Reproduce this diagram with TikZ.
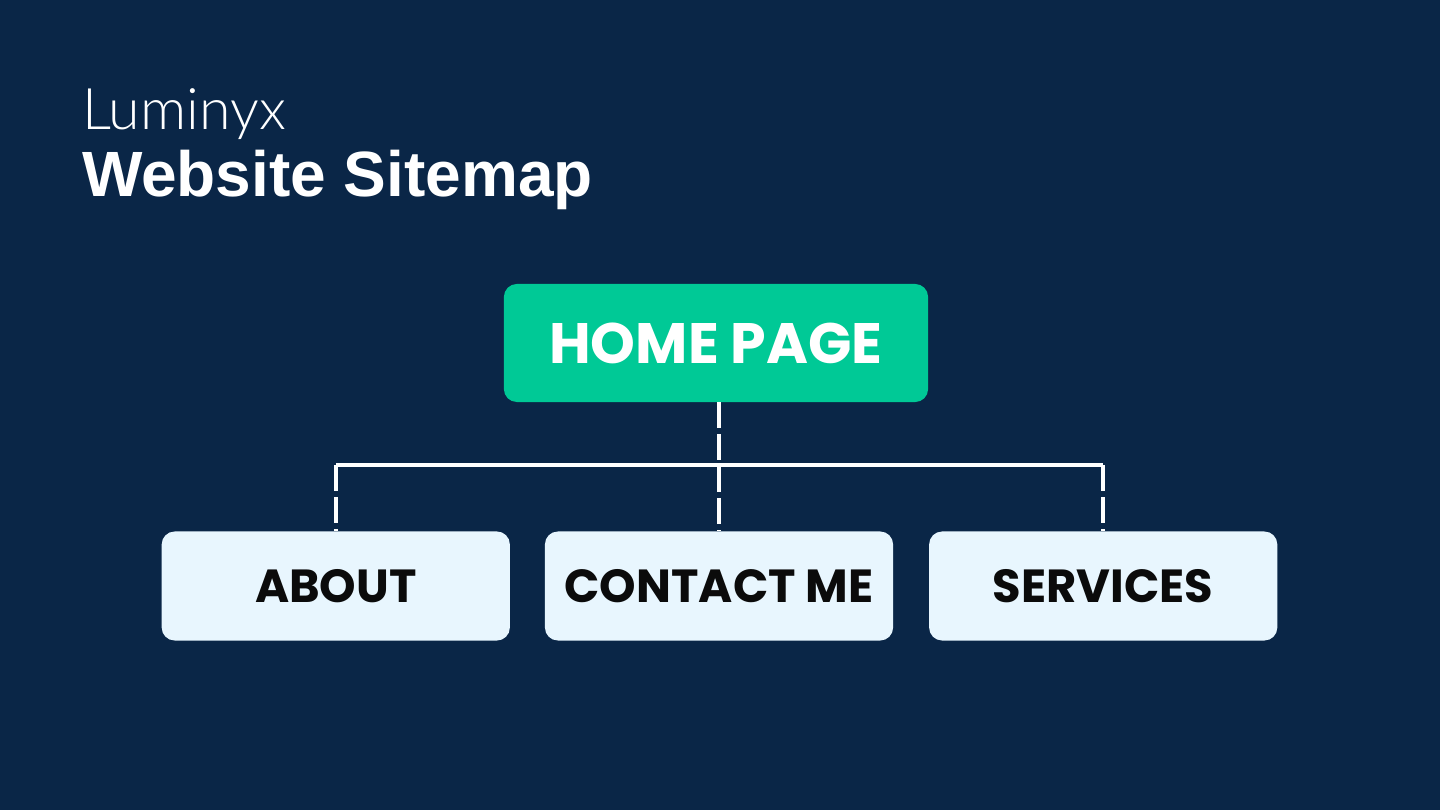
\documentclass[tikz,border=0pt]{standalone}
\usepackage{fontspec}
\usepackage{tikz}
\usetikzlibrary{
    positioning
}
\setmainfont{Liberation Sans}
\newfontfamily\lightfont{Lato Light}
\newfontfamily\boxfont{Poppins}
\definecolor{navy}{HTML}{0A2647}
\definecolor{mint}{HTML}{00C996}
\definecolor{ice}{HTML}{E8F6FE}
\definecolor{ink}{HTML}{0B0B0B}

\begin{document}
\begin{tikzpicture}[
    x=0.01cm, y=-0.01cm,
    every node/.style={inner sep=0pt, outer sep=0pt},
    homebox/.style={
        fill=mint,
        rounded corners=1.3mm,
        minimum width=4.24cm,
        minimum height=1.18cm,
        text=white,
        font=\boxfont\bfseries\fontsize{16.2}{18}\selectfont
    },
    pagebox/.style={
        fill=ice,
        rounded corners=1.3mm,
        minimum width=3.48cm,
        minimum height=1.09cm,
        text=ink,
        font=\boxfont\bfseries\fontsize{13.2}{15}\selectfont
    },
    bus line/.style={draw=white, line width=1.1pt},
    drop line/.style={draw=white, line width=1.1pt, dash pattern=on 7.5pt off 1.6pt}
]

% background
\fill[navy] (0,0) rectangle (1440,810);

% title
\node[anchor=base west, text=white, font=\lightfont\fontsize{16.3}{18}\selectfont]
    (brand) at (82,130) {Luminyx};
\node[anchor=base west, text=white, font=\bfseries\fontsize{18.2}{22}\selectfont]
    (title) at (82,197) {Website Sitemap};

% pages
\node[homebox] (home) at (716,343) {HOME PAGE};
\node[pagebox] (contact) at (719,586) {CONTACT ME};
\node[pagebox, left=0.35cm of contact] (about) {ABOUT};
\node[pagebox, right=0.36cm of contact] (services) {SERVICES};

% connectors
\coordinate (bus) at (716,465);
\draw[drop line] (home.south -| contact.north) -- (contact.north);
\draw[bus line] (about.north |- bus) -- (services.north |- bus);
\draw[drop line] (about.north |- bus) -- (about.north);
\draw[drop line] (services.north |- bus) -- (services.north);

\end{tikzpicture}
\end{document}
